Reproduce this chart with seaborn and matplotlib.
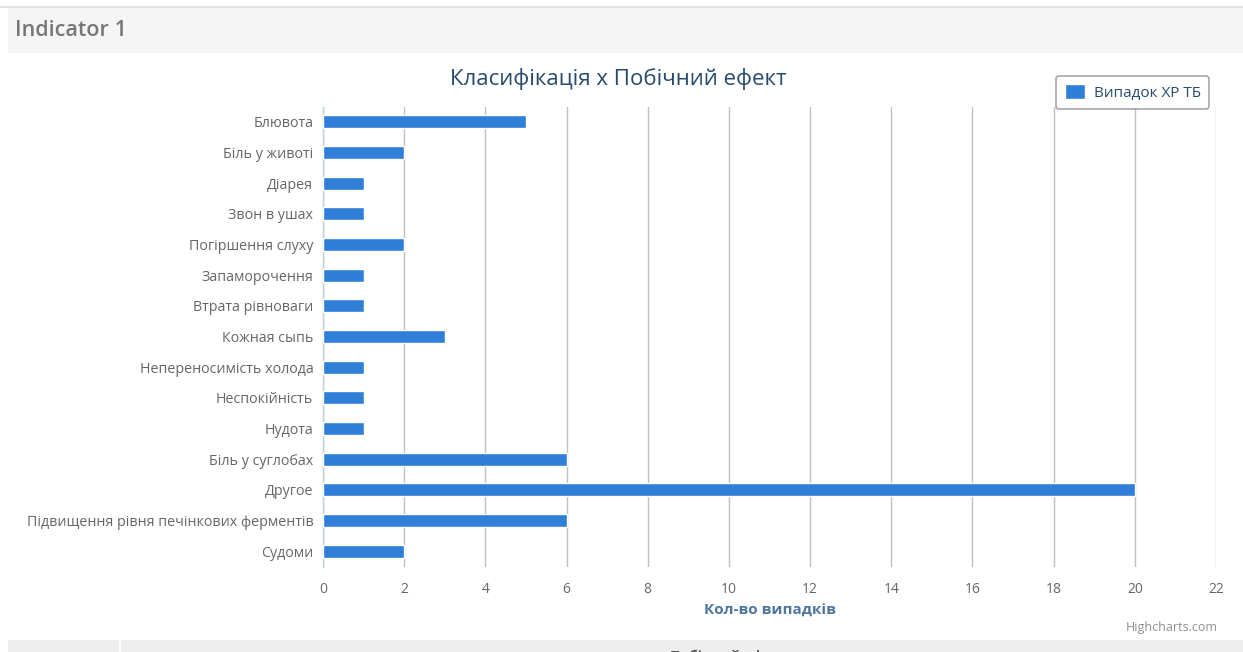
import matplotlib.pyplot as plt
import matplotlib.patches as mpatches
import numpy as np
import seaborn as sns

# data
categories = ["Блювота", "Біль у животі", "Діарея", "Звон в ушах", "Погіршення слуху",
              "Запаморочення", "Втрата рівноваги", "Кожная сыпь", "Непереносимість холода",
              "Неспокійність", "Нудота", "Біль у суглобах", "Другое",
              "Підвищення рівня печінкових ферментів", "Судоми"]
values = [5, 2, 1, 1, 2, 1, 1, 3, 1, 1, 1, 6, 20, 6, 2]
series_name = "Випадок ХР ТБ"
x_ticks = list(range(0, 23, 2))

bar_color = "#2F7ED8"
label_color = "#666666"

sns.set_style("white")
plt.rcParams["font.family"] = ["Open Sans", "DejaVu Sans"]

W, H = 1243, 652
fig = plt.figure(figsize=(W / 100, H / 100), dpi=100)

# page decorations (header strip, bottom strip)
fig.patches.append(mpatches.Rectangle((8 / W, 1 - 53 / H), 1, 45 / H, transform=fig.transFigure,
                                      facecolor="#F5F5F5", edgecolor="none", zorder=0))
fig.patches.append(mpatches.Rectangle((0, 1 - 8 / H), 1, 1.5 / H, transform=fig.transFigure,
                                      facecolor="#E3E3E3", edgecolor="none", zorder=0))
fig.patches.append(mpatches.Rectangle((8 / W, 0), 1, 12 / H, transform=fig.transFigure,
                                      facecolor="#EEEEEE", edgecolor="none", zorder=0))
fig.patches.append(mpatches.Rectangle((119 / W, 0), 1.5 / W, 12 / H, transform=fig.transFigure,
                                      facecolor="white", edgecolor="none", zorder=1))
fig.text(15 / W, 1 - 31 / H, "Indicator 1", fontsize=15.5, color="#777777", va="center",
         fontweight="semibold")
fig.text(670 / W, 1 - 657 / H, "Побічний ефект", fontsize=10, color="#555555",
         fontweight="bold", va="center")

ax = fig.add_axes([323 / W, 1 - 566.5 / H, (1216 - 323) / W, (566.5 - 106.5) / H])
sns.barplot(x=values, y=categories, orient="h", color=bar_color, width=0.43,
            saturation=1, ax=ax, zorder=3, label=series_name)

ax.set_xlim(0, 22)
ax.set_xticks(x_ticks)
ax.xaxis.grid(True, color="#C0C0C0", linewidth=1, zorder=0)
ax.set_axisbelow(True)
for s in ["top", "right", "bottom"]:
    ax.spines[s].set_visible(False)
ax.spines["left"].set_color("#C0D0E0")
ax.spines["left"].set_linewidth(1)

ax.tick_params(axis="x", colors="#C0D0E0", length=5, width=1, labelcolor=label_color,
               labelsize=10, pad=6)
ax.tick_params(axis="y", which="major", length=0, labelcolor=label_color, labelsize=10.3, pad=7)
ax.set_yticks(np.arange(-0.5, len(categories), 1), minor=True)
ax.tick_params(axis="y", which="minor", length=5, color="#C0D0E0", width=1)

ax.set_xlabel("Кол-во випадків", fontsize=11, color="#4D759E", fontweight="bold", labelpad=5)
ax.set_ylabel("")

fig.text(618 / W, 1 - 79 / H, "Класифікація х Побічний ефект", fontsize=16,
         color="#274B6D", ha="center", va="center")

leg = ax.legend(loc="upper right", bbox_to_anchor=(1217 / W, 1 - 68 / H),
                bbox_transform=fig.transFigure, frameon=True, fancybox=True, shadow=False,
                fontsize=11, handlelength=1.3, handleheight=1.1, borderpad=0.55,
                handletextpad=0.6)
leg.get_frame().set_edgecolor("#909090")
leg.get_frame().set_linewidth(1.2)
for t in leg.get_texts():
    t.set_color("#274B6D")

fig.text(1218 / W, 1 - 628 / H, "Highcharts.com", fontsize=9, color="#909090",
         ha="right", va="center")

fig.savefig("out.png", dpi=100)
